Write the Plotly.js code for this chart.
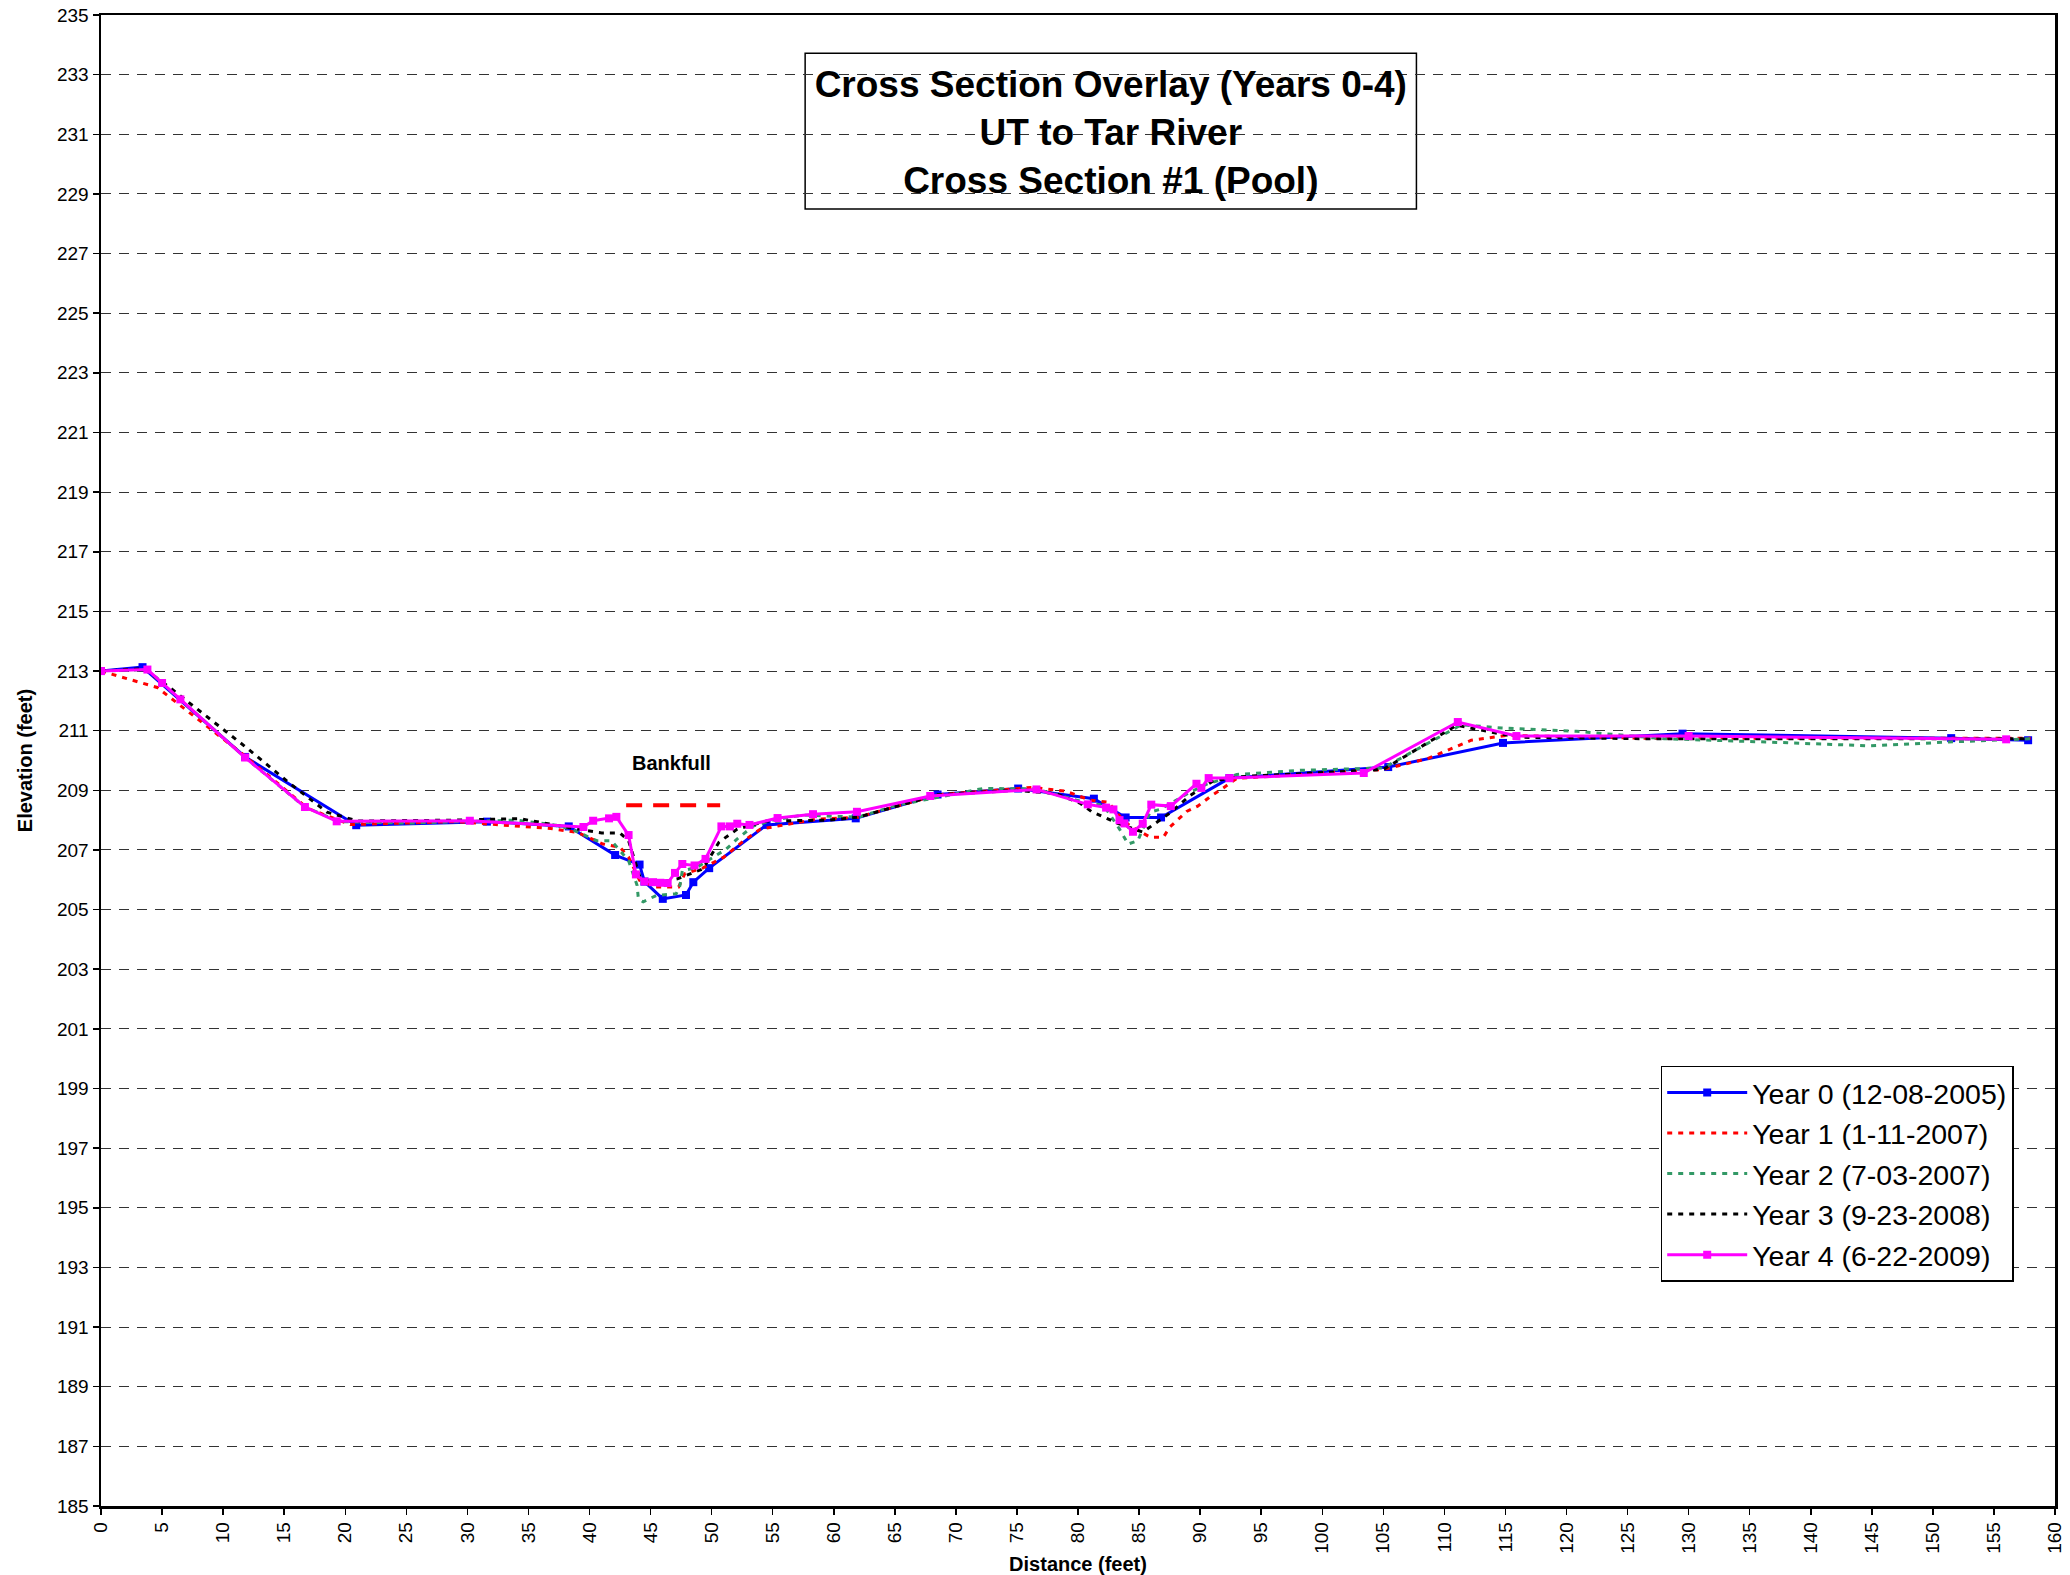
<!DOCTYPE html>
<html>
<head>
<meta charset="utf-8">
<script src="https://cdn.plot.ly/plotly-3.0.1.min.js"></script>
<style>html,body{margin:0;padding:0;background:#fff;}#chart{width:2070px;height:1575px;}</style>
</head>
<body>
<div id="chart"></div>
<script>
// Year 0 (12-08-2005)
const dist0 = [0, 3.4, 11.8, 20.9, 31.6, 38.3, 42.1, 44.1, 44.5, 46.0, 47.9, 48.5, 49.8, 54.5, 61.8, 68.5, 75.1, 81.3, 83.9, 86.8, 92.4, 105.4, 114.8, 129.5, 151.5, 157.8];
const elev0 = [213.0, 213.13, 210.12, 207.83, 207.95, 207.79, 206.83, 206.51, 205.94, 205.36, 205.49, 205.92, 206.39, 207.84, 208.06, 208.86, 209.06, 208.72, 208.09, 208.09, 209.41, 209.78, 210.59, 210.9, 210.75, 210.68];
// Year 1 (1-11-2007)
const dist1 = [0, 4.6, 11.8, 16.9, 20.4, 29.0, 36.8, 39.0, 41.1, 42.5, 43.2, 44.1, 45.4, 47.3, 47.8, 49.3, 51.0, 52.6, 54.0, 58.6, 62.0, 68.5, 76.3, 79.0, 81.0, 82.5, 83.6, 84.3, 85.9, 87.0, 87.5, 88.9, 89.8, 90.8, 91.9, 93.0, 105.0, 108.6, 112.2, 115.1, 126.3, 158.0];
const elev1 = [213.0, 212.45, 210.15, 208.4, 207.85, 207.95, 207.72, 207.59, 207.2, 207.09, 206.76, 205.98, 205.76, 205.76, 206.2, 206.4, 206.76, 207.3, 207.7, 208.03, 208.1, 208.85, 209.1, 208.97, 208.67, 208.6, 208.04, 207.8, 207.43, 207.43, 207.76, 208.29, 208.47, 208.78, 209.08, 209.4, 209.7, 210.06, 210.68, 210.84, 210.75, 210.75];
// Year 2 (7-03-2007)
const dist2 = [0, 3.7, 5.0, 6.5, 11.8, 16.7, 19.5, 25.0, 30.0, 34.0, 37.0, 38.5, 40.6, 41.8, 43.2, 43.9, 44.0, 44.4, 45.5, 47.1, 47.4, 47.6, 48.8, 51.2, 52.1, 53.4, 55.0, 57.5, 62.0, 65.2, 72.2, 76.5, 80.5, 82.1, 83.4, 84.1, 84.9, 85.9, 86.7, 89.2, 90.5, 93.0, 98.2, 105.0, 111.4, 114.7, 120.8, 128.0, 136.4, 144.9, 151.3, 158.0];
const elev2 = [213.0, 213.05, 212.6, 212.05, 210.1, 208.44, 207.95, 207.9, 207.95, 208.0, 207.85, 207.7, 207.31, 207.31, 206.64, 205.81, 205.37, 205.26, 205.48, 205.53, 205.8, 206.3, 206.42, 207.03, 207.37, 207.8, 208.0, 208.17, 208.1, 208.5, 209.06, 209.05, 208.6, 208.5, 207.7, 207.2, 207.31, 208.27, 208.36, 208.94, 209.2, 209.53, 209.67, 209.75, 211.2, 211.09, 210.98, 210.73, 210.62, 210.49, 210.62, 210.73];
// Year 3 (9-23-2008)
const dist3 = [0, 3.5, 5.4, 11.7, 15.5, 18.5, 21.0, 29.0, 34.3, 36.5, 39.0, 41.0, 42.5, 43.2, 44.2, 45.5, 47.2, 49.3, 50.6, 52.1, 54.5, 59.6, 62.0, 68.5, 75.0, 78.2, 80.2, 81.1, 82.2, 83.2, 85.3, 86.4, 87.4, 89.2, 91.0, 93.0, 105.0, 111.0, 116.0, 126.3, 158.0];
const elev3 = [213.0, 213.08, 212.52, 210.5, 209.22, 208.27, 207.97, 208.0, 208.05, 207.88, 207.7, 207.57, 207.57, 207.31, 206.0, 205.9, 206.03, 206.37, 207.26, 207.7, 207.97, 208.0, 208.1, 208.85, 209.0, 208.89, 208.56, 208.29, 208.1, 207.9, 207.6, 207.93, 208.2, 208.83, 209.3, 209.45, 209.7, 211.18, 210.78, 210.73, 210.73];
// Year 4 (6-22-2009)
const dist4 = [0, 3.8, 5.0, 6.5, 11.8, 16.7, 19.3, 30.2, 39.5, 40.3, 41.6, 42.2, 43.2, 43.8, 44.5, 45.2, 45.8, 46.4, 47.0, 47.6, 48.6, 49.5, 50.8, 51.5, 52.1, 53.1, 55.4, 58.3, 61.9, 67.9, 76.6, 80.8, 82.3, 82.9, 83.4, 83.8, 84.5, 85.3, 86.0, 87.6, 89.7, 90.1, 90.7, 92.4, 103.4, 111.1, 115.9, 130.0, 156.0];
const elev4 = [213.0, 213.05, 212.6, 212.05, 210.1, 208.44, 207.96, 207.98, 207.77, 207.98, 208.06, 208.11, 207.5, 206.18, 205.94, 205.92, 205.9, 205.89, 206.23, 206.53, 206.48, 206.7, 207.79, 207.79, 207.88, 207.84, 208.07, 208.2, 208.28, 208.81, 209.03, 208.53, 208.42, 208.36, 208.0, 207.89, 207.61, 207.88, 208.52, 208.47, 209.22, 209.08, 209.41, 209.41, 209.58, 211.29, 210.82, 210.82, 210.71];
// Bankfull
const bankfullDist = [43.0, 50.7];
const bankfullElev = [208.5, 208.5];
const bankfullLabel = 'Bankfull';

const seriesNames = ['Year 0 (12-08-2005)', 'Year 1 (1-11-2007)', 'Year 2 (7-03-2007)', 'Year 3 (9-23-2008)', 'Year 4 (6-22-2009)'];
const xTitle = 'Distance (feet)';
const yTitle = 'Elevation (feet)';
const titleLines = ['Cross Section Overlay (Years 0-4)', 'UT to Tar River', 'Cross Section #1 (Pool)'];

const FONT = 'Arial, "Liberation Sans", sans-serif';

const traces = [
  {x: dist0, y: elev0, name: seriesNames[0], legendgroup: 'g0', mode: 'lines+markers',
   line: {color: '#0000FF', width: 3}, marker: {symbol: 'square', size: 8, color: '#0000FF'}},
  {x: dist1, y: elev1, name: seriesNames[1], legendgroup: 'g1', mode: 'lines',
   line: {color: '#FF0000', width: 3, dash: '5px,6px'}},
  {x: dist2, y: elev2, name: seriesNames[2], legendgroup: 'g2', mode: 'lines',
   line: {color: '#339966', width: 3, dash: '5px,6px'}},
  {x: dist3, y: elev3, name: seriesNames[3], legendgroup: 'g3', mode: 'lines',
   line: {color: '#000000', width: 3, dash: '5px,6px'}},
  {x: dist4, y: elev4, name: seriesNames[4], legendgroup: 'g4', mode: 'lines+markers',
   line: {color: '#FF00FF', width: 3}, marker: {symbol: 'square', size: 8, color: '#FF00FF'}},
  {x: bankfullDist, y: bankfullElev, name: 'Bankfull', showlegend: false, mode: 'lines',
   line: {color: '#FF0000', width: 4, dash: '16px,11px'}, hoverinfo: 'skip'}
];

const layout = {
  width: 2070, height: 1575,
  paper_bgcolor: '#fff', plot_bgcolor: '#fff',
  margin: {l: 100.5, r: 14.5, t: 14.5, b: 68.7, pad: 0},
  font: {family: FONT, color: '#000'},
  showlegend: true,
  title: {
    text: titleLines.map(t => '<b>' + t + '</b>').join('<br>'),
    font: {family: FONT, size: 37, color: '#000'},
    xref: 'container', yref: 'container',
    x: 1110.8 / 2070, xanchor: 'center',
    y: 1 - (130.7 - 34) / 1575, yanchor: 'middle'
  },
  xaxis: {
    range: [0, 160], tick0: 0, dtick: 5, tickangle: -90,
    ticks: 'outside', ticklen: 6, tickwidth: 1.5, tickcolor: '#000',
    showline: true, linecolor: '#000', linewidth: 2.5, mirror: true,
    showgrid: false, zeroline: false,
    tickfont: {family: FONT, size: 19, color: '#000'},
    title: {text: '<b>' + xTitle + '</b>', font: {family: FONT, size: 20, color: '#000'}, standoff: 4}
  },
  yaxis: {
    range: [185, 235], tick0: 185, dtick: 2,
    ticks: 'outside', ticklen: 6, tickwidth: 1.5, tickcolor: '#000',
    showline: true, linecolor: '#000', linewidth: 2.5, mirror: true,
    showgrid: true, gridcolor: '#333', gridwidth: 1, griddash: '10px,8px',
    zeroline: false,
    tickfont: {family: FONT, size: 19, color: '#000'},
    title: {text: '<b>' + yTitle + '</b>', font: {family: FONT, size: 20, color: '#000'}, standoff: 19}
  },
  legend: {
    x: (1661 - 100.5) / 1955, y: 1 - (1066 - 14.5) / 1491.8,
    xanchor: 'left', yanchor: 'top',
    bgcolor: '#fff', bordercolor: '#000', borderwidth: 1.5,
    font: {family: FONT, size: 28.5, color: '#000'},
    itemwidth: 80, traceorder: 'grouped', tracegroupgap: 0.5
  },
  shapes: [{
    type: 'rect', xref: 'paper', yref: 'paper', layer: 'between',
    x0: (805 - 100.5) / 1955, x1: (1416.6 - 100.5) / 1955,
    y0: 1 - (208.6 - 14.5) / 1491.8, y1: 1 - (52.8 - 14.5) / 1491.8,
    fillcolor: '#fff', line: {color: '#000', width: 1.5}
  }],
  annotations: [{
    x: 46.7, y: 209.92, xref: 'x', yref: 'y', showarrow: false,
    text: '<b>' + bankfullLabel + '</b>',
    font: {family: FONT, size: 20, color: '#000'}
  }]
};

Plotly.newPlot('chart', traces, layout, {displayModeBar: false, staticPlot: true});
</script>
</body>
</html>
